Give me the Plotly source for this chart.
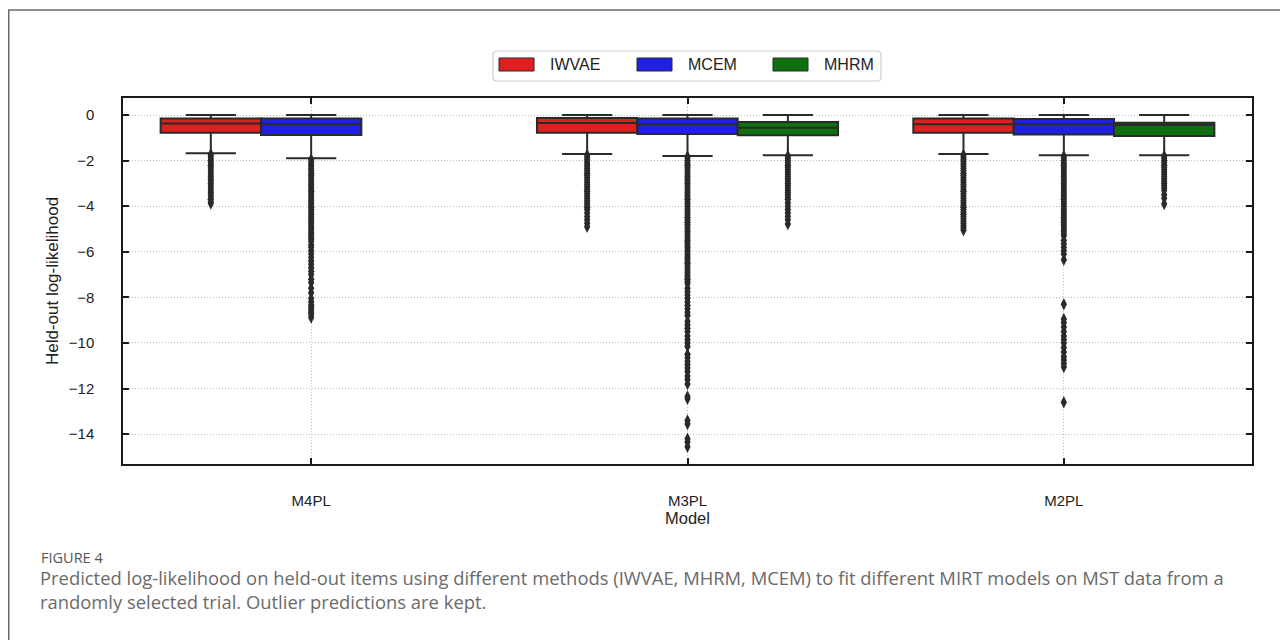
import plotly.graph_objects as go

# ---------------- data ----------------
models = ["M4PL", "M3PL", "M2PL"]
methods = ["IWVAE", "MCEM", "MHRM"]
colors = ["rgb(223,32,32)", "rgb(32,32,223)", "rgb(16,112,16)"]

# box statistics per method, per model (None = method not fitted)
upper = {"IWVAE": [0.0, 0.0, 0.0], "MCEM": [0.0, 0.0, 0.0], "MHRM": [None, 0.0, 0.0]}
q3 = {"IWVAE": [-0.15, -0.13, -0.15], "MCEM": [-0.15, -0.15, -0.18], "MHRM": [None, -0.31, -0.34]}
median = {"IWVAE": [-0.37, -0.35, -0.41], "MCEM": [-0.41, -0.41, -0.41], "MHRM": [None, -0.56, -0.44]}
q1 = {"IWVAE": [-0.78, -0.78, -0.78], "MCEM": [-0.88, -0.83, -0.85], "MHRM": [None, -0.89, -0.92]}
lower = {"IWVAE": [-1.68, -1.71, -1.71], "MCEM": [-1.9, -1.8, -1.77], "MHRM": [None, -1.77, -1.77]}

# outlier values per method, per model
out_iwvae_m4pl = [-1.72, -1.8, -1.9, -2.0, -2.1, -2.2, -2.3, -2.4, -2.5, -2.6, -2.7, -2.8, -2.9,
                  -3.0, -3.1, -3.2, -3.3, -3.4, -3.5, -3.6, -3.7, -3.8, -3.88]
out_mcem_m4pl = [-1.95, -2.05, -2.15, -2.25, -2.35, -2.45, -2.55, -2.65, -2.75, -2.85, -2.95, -3.05,
                 -3.15, -3.25, -3.35, -3.45, -3.55, -3.65, -3.75, -3.85, -3.95, -4.05, -4.15, -4.25,
                 -4.35, -4.45, -4.55, -4.65, -4.75, -4.85, -4.95, -5.05, -5.15, -5.25, -5.35, -5.45,
                 -5.55, -5.7, -5.8, -5.95, -6.1, -6.25, -6.4, -6.55, -6.7, -6.85, -7.0, -7.2, -7.35,
                 -7.6, -7.8, -8.05, -8.2, -8.35, -8.45, -8.55, -8.65, -8.75, -8.88]
out_mhrm_m4pl = []
out_iwvae_m3pl = [-1.75, -1.85, -1.95, -2.05, -2.15, -2.25, -2.35, -2.45, -2.55, -2.65, -2.75, -2.85,
                  -2.95, -3.05, -3.15, -3.25, -3.35, -3.45, -3.55, -3.65, -3.75, -3.85, -3.95, -4.05,
                  -4.15, -4.3, -4.45, -4.6, -4.75, -4.9]
out_mcem_m3pl = [-1.82, -1.9, -2.0, -2.1, -2.2, -2.3, -2.4, -2.5, -2.6, -2.7, -2.8, -2.9, -3.0, -3.1,
                 -3.2, -3.3, -3.4, -3.5, -3.6, -3.7, -3.8, -3.9, -4.0, -4.1, -4.2, -4.3, -4.4, -4.5,
                 -4.6, -4.7, -4.8, -4.9, -5.0, -5.1, -5.2, -5.3, -5.4, -5.5, -5.6, -5.7, -5.8, -5.9,
                 -6.0, -6.1, -6.2, -6.3, -6.4, -6.5, -6.6, -6.7, -6.8, -6.9, -7.0, -7.1, -7.2, -7.3,
                 -7.4, -7.6, -7.75, -7.9, -8.05, -8.2, -8.35, -8.5, -8.65, -8.8, -9.05, -9.2, -9.35,
                 -9.5, -9.7, -9.85, -10.0, -10.15, -10.5, -10.65, -10.8, -10.95, -11.1, -11.25,
                 -11.45, -11.6, -11.8, -12.35, -12.45, -13.4, -13.55, -14.2, -14.35, -14.55]
out_mhrm_m3pl = [-1.8, -1.9, -2.0, -2.1, -2.2, -2.3, -2.4, -2.5, -2.6, -2.7, -2.8, -2.9, -3.0, -3.1,
                 -3.2, -3.3, -3.4, -3.5, -3.6, -3.7, -3.85, -4.0, -4.15, -4.3, -4.45, -4.6, -4.78]
out_iwvae_m2pl = [-1.75, -1.85, -1.95, -2.05, -2.15, -2.25, -2.35, -2.45, -2.55, -2.65, -2.75, -2.85,
                  -2.95, -3.05, -3.15, -3.25, -3.35, -3.45, -3.55, -3.65, -3.75, -3.85, -3.95, -4.05,
                  -4.15, -4.25, -4.35, -4.45, -4.55, -4.65, -4.75, -4.85, -4.95, -5.05]
out_mcem_m2pl = [-1.8, -1.9, -2.0, -2.1, -2.2, -2.3, -2.4, -2.5, -2.6, -2.7, -2.8, -2.9, -3.0, -3.1,
                 -3.2, -3.3, -3.4, -3.5, -3.6, -3.7, -3.8, -3.9, -4.0, -4.1, -4.2, -4.3, -4.4, -4.5,
                 -4.6, -4.7, -4.8, -4.9, -5.0, -5.1, -5.2, -5.3, -5.5, -5.65, -5.8, -5.95, -6.1, -6.35,
                 -8.3, -8.95, -9.1, -9.3, -9.5, -9.7, -9.85, -10.0, -10.2, -10.4, -10.6, -10.75, -10.9,
                 -11.05, -12.6]
out_mhrm_m2pl = [-1.8, -1.9, -2.0, -2.1, -2.2, -2.3, -2.4, -2.5, -2.6, -2.7, -2.8, -2.9, -3.0, -3.1,
                 -3.2, -3.3, -3.5, -3.65, -3.9]

outliers = {
    "IWVAE": [out_iwvae_m4pl, out_iwvae_m3pl, out_iwvae_m2pl],
    "MCEM": [out_mcem_m4pl, out_mcem_m3pl, out_mcem_m2pl],
    "MHRM": [out_mhrm_m4pl, out_mhrm_m3pl, out_mhrm_m2pl],
}

y_ticks = [0, -2, -4, -6, -8, -10, -12, -14]
y_tick_text = ["0", "\u22122", "\u22124", "\u22126", "\u22128", "\u221210", "\u221212", "\u221214"]

caption_label = "FIGURE 4"
caption_text = ("Predicted log-likelihood on held-out items using different methods (IWVAE, MHRM, MCEM) "
                "to fit different MIRT models on MST data from a<br>randomly selected trial. "
                "Outlier predictions are kept.")

# ---------------- layout constants ----------------
OFF = 8                      # default page margin of the html body
W, H = 1288 - OFF, 640 - OFF
ML, MR, MT, MB = 123 - OFF, 36, 98 - OFF, 176
PW, PH = W - ML - MR, H - MT - MB
FONT = "Arial, Liberation Sans, sans-serif"
EDGE = "#2a2a2a"
GROUP_W = 0.8
BOX_W = GROUP_W / len(methods)


def px(x):   # page pixel -> paper x
    return (x - OFF - ML) / PW


def py(y):   # page pixel -> paper y
    return (H - MB - (y - OFF)) / PH


fig = go.Figure()

for h, m in enumerate(methods):
    off = (h - (len(methods) - 1) / 2) * BOX_W
    xs, Q1, MED, Q3, LO, UP = [], [], [], [], [], []
    for i, _ in enumerate(models):
        if median[m][i] is None:
            continue
        xs.append(i + off)
        Q1.append(q1[m][i]); MED.append(median[m][i]); Q3.append(q3[m][i])
        LO.append(lower[m][i]); UP.append(upper[m][i])
    fig.add_trace(go.Box(
        x=xs, q1=Q1, median=MED, q3=Q3, lowerfence=LO, upperfence=UP,
        width=BOX_W, whiskerwidth=0.5, fillcolor=colors[h],
        line=dict(color=EDGE, width=2), name=m, showlegend=False, hoverinfo="skip",
    ))
    ox, oy = [], []
    for i, _ in enumerate(models):
        for v in outliers[m][i]:
            ox.append(i + off)
            oy.append(v)
    fig.add_trace(go.Scatter(
        x=ox, y=oy, mode="markers", showlegend=False, hoverinfo="skip",
        marker=dict(symbol="diamond-tall", size=9, color=EDGE, line=dict(width=0)),
    ))

axis_common = dict(
    showline=True, linecolor="#1a1a1a", linewidth=1.5, mirror="ticks",
    ticks="inside", ticklen=6, tickwidth=1.5, tickcolor="#1a1a1a",
    showgrid=True, gridcolor="#bdbdbd", griddash="1px,2px", gridwidth=1, zeroline=False,
    tickfont=dict(family=FONT, size=15, color="#222"),
)

fig.update_xaxes(
    range=[-0.5, 2.5], tickvals=list(range(len(models))), ticktext=models,
    title=dict(text="Model", font=dict(family=FONT, size=16.5, color="#222"), standoff=4),
    ticklabelstandoff=22, **axis_common,
)
fig.update_yaxes(
    range=[-15.31, 0.746], tickvals=y_ticks, ticktext=y_tick_text,
    title=dict(text="Held-out log-likelihood", font=dict(family=FONT, size=17, color="#222"), standoff=6),
    ticklabelstandoff=24, **axis_common,
)

shapes = []
# outer frame of the figure panel
shapes.append(dict(type="path", xref="paper", yref="paper",
                   path=f"M {px(1300)},{py(10)} L {px(8.75)},{py(10)} L {px(8.75)},{py(660)}",
                   line=dict(color="#6a6a6a", width=1.5)))
# legend box
lx0, lx1, ly0, ly1, r = 493, 881, 51, 81, 4
shapes.append(dict(type="path", xref="paper", yref="paper",
                   path=(f"M {px(lx0 + r)},{py(ly0)} L {px(lx1 - r)},{py(ly0)} "
                         f"Q {px(lx1)},{py(ly0)} {px(lx1)},{py(ly0 + r)} L {px(lx1)},{py(ly1 - r)} "
                         f"Q {px(lx1)},{py(ly1)} {px(lx1 - r)},{py(ly1)} L {px(lx0 + r)},{py(ly1)} "
                         f"Q {px(lx0)},{py(ly1)} {px(lx0)},{py(ly1 - r)} L {px(lx0)},{py(ly0 + r)} "
                         f"Q {px(lx0)},{py(ly0)} {px(lx0 + r)},{py(ly0)} Z"),
                   line=dict(color="#cfcfcf", width=1.2), fillcolor="white"))
annotations = []
sw_x = [499, 637, 773]
for h, m in enumerate(methods):
    shapes.append(dict(type="rect", xref="paper", yref="paper",
                       x0=px(sw_x[h]), x1=px(sw_x[h] + 35), y0=py(58), y1=py(71),
                       fillcolor=colors[h], line=dict(color=EDGE, width=1)))
    annotations.append(dict(xref="paper", yref="paper", x=px(sw_x[h] + 49), y=py(64.5),
                            xanchor="left", yanchor="middle", showarrow=False, text=m,
                            font=dict(family=FONT, size=16, color="#222")))

annotations.append(dict(xref="paper", yref="paper", x=px(39), y=py(557), xanchor="left",
                        yanchor="middle", showarrow=False, text=caption_label,
                        font=dict(family="Open Sans", size=14.5, color="#555")))
annotations.append(dict(xref="paper", yref="paper", x=px(38), y=py(589.5), xanchor="left",
                        yanchor="middle", showarrow=False, text=caption_text, align="left",
                        font=dict(family="Open Sans", size=18.4, color="#6a6a6a")))

fig.update_layout(
    width=W, height=H, margin=dict(l=ML, r=MR, t=MT, b=MB),
    paper_bgcolor="white", plot_bgcolor="white",
    shapes=shapes, annotations=annotations, showlegend=False,
)

fig.write_html("out.html")
